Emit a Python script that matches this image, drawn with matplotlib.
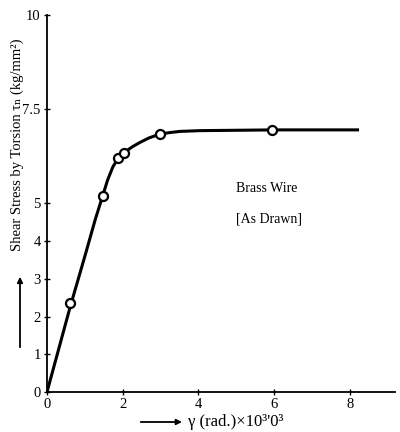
import matplotlib
matplotlib.use("Agg")
from matplotlib import pyplot as plt

# measured points (gamma x10^-3 rad, shear stress kg/mm2)
gamma_pts = [0.61, 1.47, 1.88, 2.04, 2.99, 5.94]
tau_pts = [2.36, 5.2, 6.2, 6.33, 6.84, 6.95]

# curve
gamma_curve = [0, 0.61, 1.0, 1.27, 1.47, 1.6, 1.74, 1.88, 2.04, 2.25, 2.46, 2.7, 2.99, 3.25, 3.51, 4.04, 6.0, 8.2]
tau_curve = [0, 2.25, 3.6, 4.56, 5.2, 5.62, 5.97, 6.2, 6.35, 6.5, 6.62, 6.74, 6.84, 6.88, 6.91, 6.93, 6.95, 6.95]

xticks = [0, 2, 4, 6, 8]
yticks = [0, 1, 2, 3, 4, 5, 7.5, 10]
yticklabels = ["0", "1", "2", "3", "4", "5", "7.5", "10"]

plt.rcParams['font.family'] = ['Liberation Serif', 'DejaVu Serif']

fig = plt.figure(figsize=(4, 4.32), dpi=100)
ax = fig.add_axes([0.1175, 0.0926, 0.87, 0.873])

ax.plot(gamma_curve, tau_curve, color="black", lw=2.2, zorder=2)
ax.plot(gamma_pts, tau_pts, "o", ms=6.5, mfc="white", mec="black", mew=1.6, zorder=3)

ax.set_xlim(0, 9.19)
ax.set_ylim(0, 10)
ax.set_xticks(xticks)
ax.set_yticks(yticks)
ax.set_yticklabels(yticklabels)
ax.tick_params(direction="inout", length=5, width=1, labelsize=10.5, pad=2)
ax.spines["top"].set_visible(False)
ax.spines["right"].set_visible(False)
ax.spines["left"].set_linewidth(1.3)
ax.spines["bottom"].set_linewidth(1.3)

ax.text(5.8, 5.3, "Brass Wire", fontsize=10, ha="center")
ax.text(5.85, 4.5, "[As Drawn]", fontsize=10, ha="center")

fig.text(0.042, 0.665, "Shear Stress by Torsion τₙ (kg/mm²)", rotation=90,
         fontsize=10.5, ha="center", va="center")
fig.text(0.47, 0.022, "γ (rad.)×10³'0³", fontsize=12, ha="left", va="center")

# direction arrows
fig.add_artist(matplotlib.patches.FancyArrowPatch((0.05, 1 - 350 / 432), (0.05, 1 - 274 / 432),
               transform=fig.transFigure, arrowstyle="-|>", mutation_scale=8, lw=1.3, color="black"))
fig.add_artist(matplotlib.patches.FancyArrowPatch((0.345, 1 - 422 / 432), (0.462, 1 - 422 / 432),
               transform=fig.transFigure, arrowstyle="-|>", mutation_scale=8, lw=1.3, color="black"))

plt.savefig("out.png")
